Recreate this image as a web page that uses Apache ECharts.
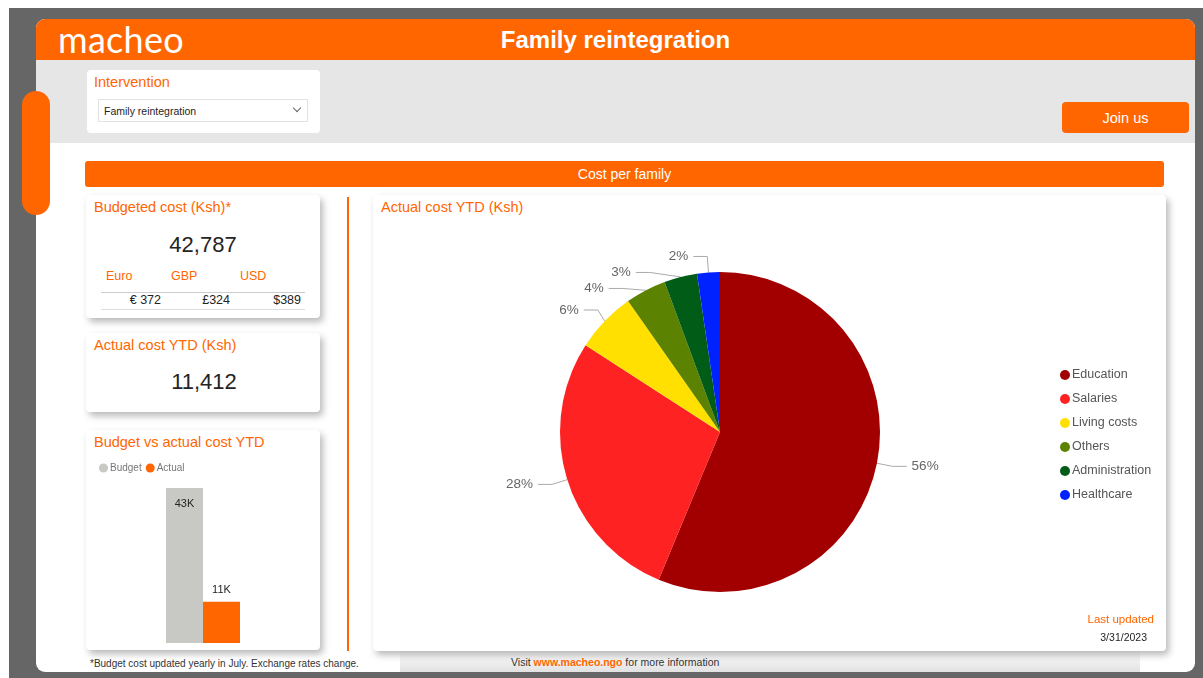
<!DOCTYPE html>
<html>
<head>
<meta charset="utf-8">
<title>Family reintegration</title>
<script src="https://cdn.jsdelivr.net/npm/echarts@6/dist/echarts.min.js"></script>
<style>
  body { margin:0; width:1203px; height:678px; background:#fff; font-family:"Liberation Sans", Arial, sans-serif; overflow:hidden; position:relative; }
  .abs { position:absolute; }
  #bg { left:9px; top:8px; width:1194px; height:670px; background:#666; }
  #panel { left:36px; top:19px; width:1159px; height:653px; background:#fff; border-radius:9px; overflow:hidden; }
  #head { left:36px; top:19px; width:1159px; height:41px; background:#FF6600; border-radius:9px 9px 0 0; }
  #greyband { left:36px; top:60px; width:1159px; height:83px; background:#e6e6e6; }
  .orange { color:#FF6600; }
  .card { background:#fff; border-radius:4px; box-shadow:3px 4px 7px rgba(0,0,0,0.28); }
  .ttl { font-size:14.5px; color:#FF6600; }
</style>
</head>
<body>
<div class="abs" id="bg"></div>
<div class="abs" id="panel"></div>
<div class="abs" id="head"></div>
<div class="abs" style="left:58px;top:21px;font-family:Lato,'Liberation Sans',sans-serif;font-size:36px;color:#fff;letter-spacing:0.3px;line-height:36px;">macheo</div>
<div class="abs" style="left:36px;top:24px;width:1159px;text-align:center;font-size:24px;font-weight:bold;color:#fff;line-height:32px;">Family reintegration</div>
<div class="abs" id="greyband"></div>
<div class="abs" style="left:22px;top:91px;width:28px;height:124px;background:#FF6600;border-radius:14px;"></div>

<!-- slicer -->
<div class="abs" style="left:87px;top:70px;width:233px;height:63px;background:#fff;border-radius:4px;"></div>
<div class="abs ttl" style="left:94px;top:73px;line-height:18px;">Intervention</div>
<div class="abs" style="left:98px;top:99px;width:208px;height:21px;border:1px solid #e2e2e2;background:#fff;"></div>
<div class="abs" style="left:104px;top:104px;font-size:10.5px;color:#252423;line-height:14px;">Family reintegration</div>
<div class="abs" style="left:294px;top:105px;width:5px;height:5px;border-right:1px solid #666;border-bottom:1px solid #666;transform:rotate(45deg);"></div>

<div class="abs" style="left:1062px;top:102px;width:127px;height:31px;background:#FF6600;border-radius:4px;color:#fff;font-size:14.5px;text-align:center;line-height:32px;">Join us</div>

<div class="abs" style="left:85px;top:161px;width:1079px;height:26px;background:#FF6600;border-radius:3px;color:#fff;font-size:14px;text-align:center;line-height:27px;">Cost per family</div>

<!-- budgeted card -->
<div class="abs card" style="left:86px;top:195px;width:234px;height:123px;"></div>
<div class="abs ttl" style="left:94px;top:198px;line-height:18px;">Budgeted cost (Ksh)*</div>
<div class="abs" style="left:86px;top:231px;width:234px;text-align:center;font-size:22px;color:#252423;line-height:28px;">42,787</div>
<div class="abs orange" style="left:106px;top:269px;font-size:12.5px;line-height:15px;">Euro</div>
<div class="abs orange" style="left:171px;top:269px;font-size:12.5px;line-height:15px;">GBP</div>
<div class="abs orange" style="left:240px;top:269px;font-size:12.5px;line-height:15px;">USD</div>
<div class="abs" style="left:101px;top:292px;width:204px;height:1px;background:#ccc;"></div>
<div class="abs" style="left:101px;top:309px;width:204px;height:1px;background:#ddd;"></div>
<div class="abs" style="left:101px;top:293px;width:60px;text-align:right;font-size:12.5px;color:#252423;line-height:15px;">€ 372</div>
<div class="abs" style="left:165px;top:293px;width:65px;text-align:right;font-size:12.5px;color:#252423;line-height:15px;">£324</div>
<div class="abs" style="left:234px;top:293px;width:67px;text-align:right;font-size:12.5px;color:#252423;line-height:15px;">$389</div>

<!-- actual card -->
<div class="abs card" style="left:86px;top:333px;width:234px;height:79px;"></div>
<div class="abs ttl" style="left:94px;top:336px;line-height:18px;">Actual cost YTD (Ksh)</div>
<div class="abs" style="left:86px;top:368px;width:236px;text-align:center;font-size:22px;color:#252423;line-height:28px;">11,412</div>

<!-- bar card -->
<div class="abs card" style="left:86px;top:430px;width:234px;height:220px;"></div>
<div class="abs ttl" style="left:94px;top:433px;line-height:18px;">Budget vs actual cost YTD</div>
<div class="abs" id="bars" style="left:86px;top:430px;width:234px;height:220px;"></div>
<div class="abs" style="left:90px;top:657px;font-size:10px;color:#333;line-height:13px;">*Budget cost updated yearly in July. Exchange rates change.</div>

<div class="abs" style="left:347px;top:197px;width:2px;height:454px;background:#FF6600;"></div>

<!-- pie card -->
<div class="abs" style="left:400px;top:651px;width:740px;height:21px;background:linear-gradient(#fdfdfd,#e2e2e2);"></div>
<div class="abs card" style="left:373px;top:195px;width:793px;height:456px;"></div>
<div class="abs ttl" style="left:381px;top:198px;line-height:18px;">Actual cost YTD (Ksh)</div>
<div class="abs" id="pie" style="left:373px;top:195px;width:793px;height:456px;"></div>
<div class="abs orange" style="left:1000px;top:612px;width:154px;text-align:right;font-size:11.5px;line-height:14px;">Last updated</div>
<div class="abs" style="left:1000px;top:630px;width:147px;text-align:right;font-size:10.5px;color:#252423;line-height:14px;">3/31/2023</div>
<div class="abs" style="left:511px;top:655px;font-size:10.5px;color:#333;line-height:14px;">Visit <b class="orange">www.macheo.ngo</b> for more information</div>

<script>
// pie data, Ksh actual cost YTD
var categories = ['Education', 'Salaries', 'Living costs', 'Others', 'Administration', 'Healthcare'];
var costs = [6420, 3180, 700, 470, 380, 262];
var sliceColors = ['#A20000', '#FF2222', '#FFE000', '#5B8200', '#005C16', '#0022FF'];

// budget vs actual
var barNames = ['Budget', 'Actual'];
var barValues = [42787, 11412];
var barColors = ['#C8C8C4', '#FF6600'];

var pieChart = echarts.init(document.getElementById('pie'));
var pieData = [];
for (var i = 0; i < categories.length; i++) {
  pieData.push({ name: categories[i], value: costs[i], itemStyle: { color: sliceColors[i] } });
}
pieChart.setOption({
  animation: false,
  legend: {
    orient: 'vertical',
    left: 682,
    top: 168,
    icon: 'circle',
    itemWidth: 10,
    itemHeight: 10,
    itemGap: 10,
    textStyle: { fontFamily: 'Liberation Sans', fontSize: 12.5, color: '#555', lineHeight: 14, padding: [0, 0, 0, -3] },
    data: categories
  },
  series: [{
    type: 'pie',
    center: [347, 237],
    radius: 160,
    startAngle: 90,
    clockwise: true,
    avoidLabelOverlap: true,
    label: {
      formatter: function (p) { return Math.round(p.percent) + '%'; },
      color: '#666',
      fontFamily: 'Liberation Sans',
      fontSize: 13.5
    },
    labelLine: { length: 16, length2: 14, lineStyle: { color: '#aaa', width: 1 } },
    data: pieData
  }]
});

var barChart = echarts.init(document.getElementById('bars'));
var barSeries = [];
for (var j = 0; j < barNames.length; j++) {
  barSeries.push({
    name: barNames[j],
    type: 'bar',
    barWidth: 37,
    barGap: 0,
    itemStyle: { color: barColors[j] },
    label: {
      show: true,
      position: j == 0 ? 'insideTop' : 'top',
      distance: j == 0 ? 10 : 6,
      color: '#252423',
      fontFamily: 'Liberation Sans',
      fontSize: 11,
      formatter: function (p) { return Math.round(p.value / 1000) + 'K'; }
    },
    data: [barValues[j]]
  });
}
barChart.setOption({
  animation: false,
  legend: {
    left: 8,
    top: 28,
    icon: 'circle',
    itemWidth: 9,
    itemHeight: 9,
    itemGap: 4,
    textStyle: { fontFamily: 'Liberation Sans', fontSize: 10, color: '#777', padding: [0, 0, 0, -3] },
    data: barNames
  },
  grid: { left: 0, right: 0, top: 58, bottom: 7 },
  xAxis: { type: 'category', data: [''], show: false },
  yAxis: { type: 'value', min: 0, max: 'dataMax', show: false },
  series: barSeries
});
</script>
</body>
</html>
